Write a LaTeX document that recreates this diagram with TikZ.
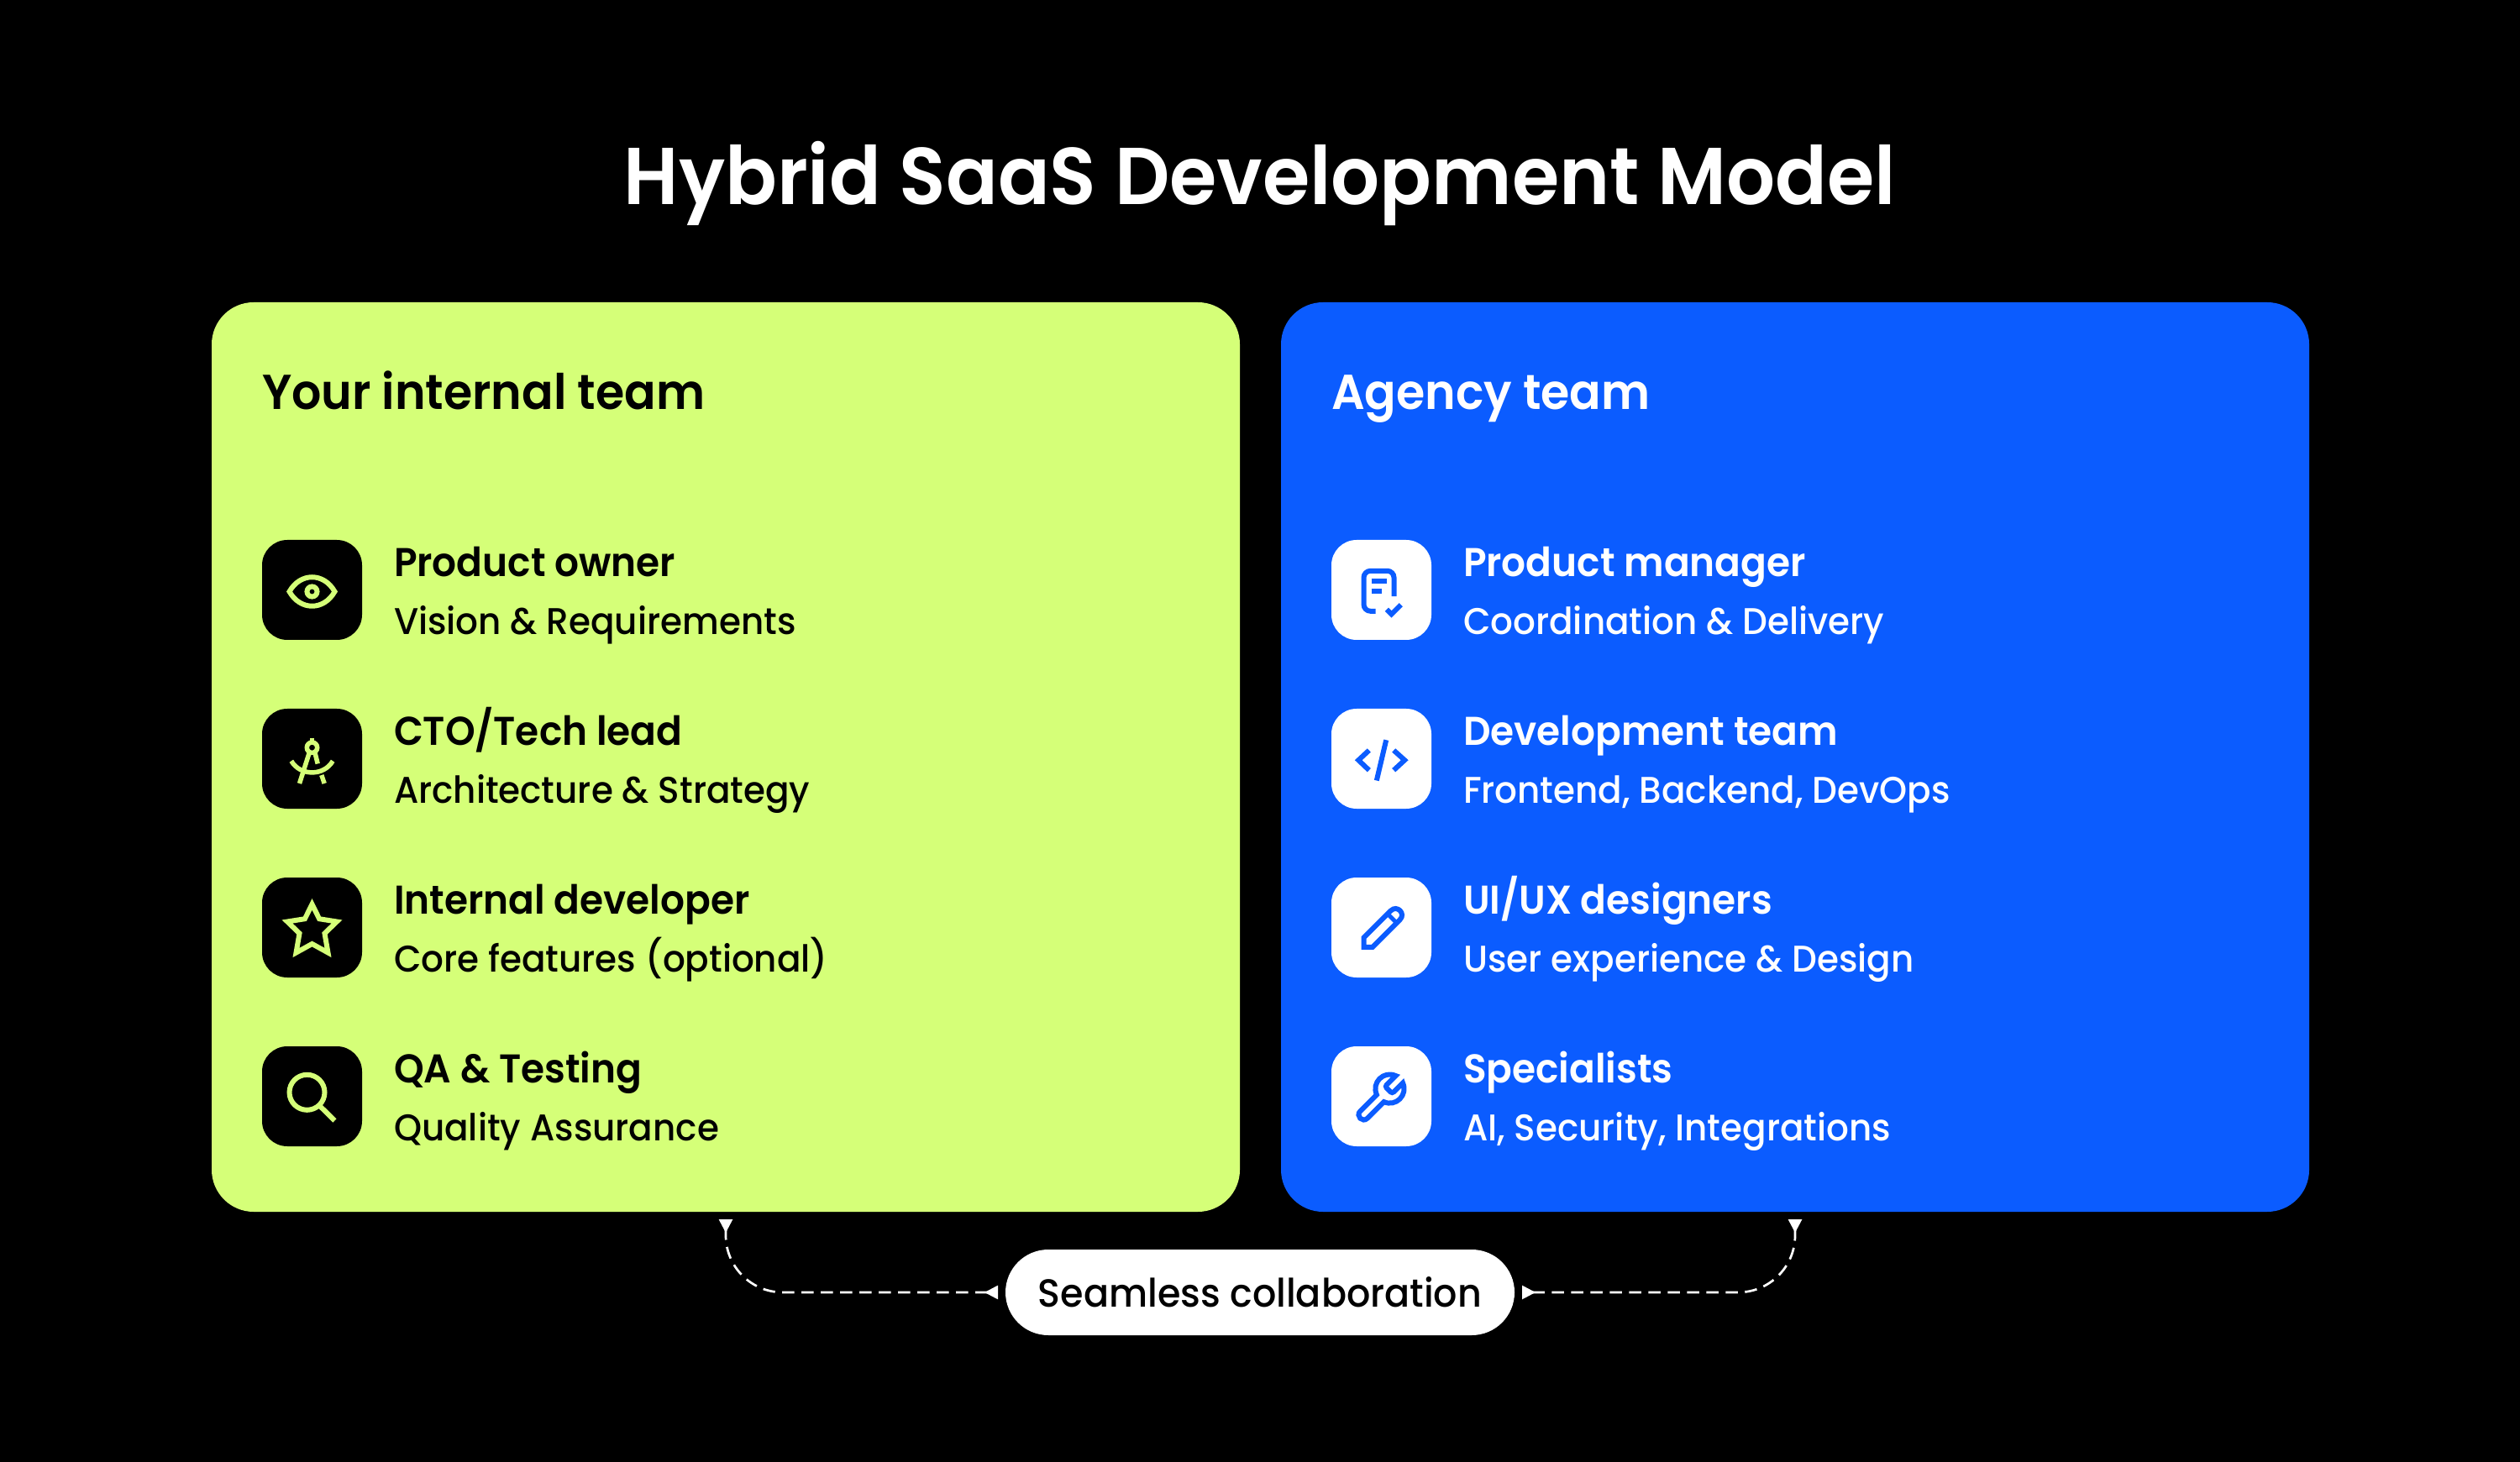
\documentclass[tikz,border=0pt]{standalone}
\usepackage{fontspec}
\setmainfont{Poppins Medium}[BoldFont={Poppins SemiBold}, FakeStretch=0.95]
\usetikzlibrary{positioning, arrows.meta}
\definecolor{lime}{HTML}{D5FF78}
\definecolor{agency}{HTML}{0B5CFF}

\begin{document}
\begin{tikzpicture} [ font=\rmfamily
                    , panel/.style={minimum width=12.24cm, minimum height=10.83cm, rounded corners=0.5cm, inner sep=0pt, outer sep=0pt}
                    , tile/.style={minimum size=1.19cm, rounded corners=0.3cm, inner sep=0pt, outer sep=0pt}
                    , heading/.style={font=\fontsize{16.6pt}{20pt}\bfseries, inner sep=0pt, outer sep=0pt, anchor=base west}
                    , rolename/.style={font=\fontsize{13.6pt}{16pt}\bfseries, inner sep=0pt, outer sep=0pt, anchor=base west, yshift=0.16cm}
                    , rolesub/.style={font=\fontsize{12.6pt}{15pt}\selectfont, inner sep=0pt, outer sep=0pt, anchor=base west, yshift=-0.53cm}
                    , icon/.style={line width=0.06cm, x=0.01cm, y=-0.01cm}
                    , link/.style={ white, line width=0.027cm, dash pattern=on 0.145cm off 0.085cm
                                  , rounded corners=0.68cm, shorten <=0.09cm, shorten >=0.09cm
                                  , {Triangle[reversed, length=0.16cm, width=0.16cm]}-{Triangle[reversed, length=0.16cm, width=0.16cm]}
                                  }
                    ]

  \useasboundingbox (0,0) rectangle (30,17.4);
  \fill [black] (-0.1,-0.1) rectangle (30.1,17.5);

  \node [ font=\fontsize{27.3pt}{32pt}\bfseries
        , white
        , inner sep=0pt
        , anchor=base
        ]
        (title) at (15,14.96) {Hybrid SaaS Development Model};

  % --- Internal Team Stack ---------------------------------------------------
  \node [ panel
        , fill=lime
        ]
        (internal) at (8.64,8.385) {};

  \node [ heading
        , below right=1.28cm and 0.6cm of internal.north west
        , anchor=base west
        ]
        (internalhead) {Your internal team};

  \node [ tile
        , fill=black
        , below right=2.83cm and 0.6cm of internal.north west
        ]
        (eyetile) {};

  \node [ tile
        , fill=black
        , below=0.82cm of eyetile
        ]
        (ctotile) {};

  \node [ tile
        , fill=black
        , below=0.82cm of ctotile
        ]
        (devtile) {};

  \node [ tile
        , fill=black
        , below=0.82cm of devtile
        ]
        (qatile) {};

  \node [right=0.38cm of eyetile, rolename] (eyename) {Product owner};
  \node [right=0.38cm of eyetile, rolesub]  (eyesub)  {Vision \& Requirements};
  \node [right=0.38cm of ctotile, rolename] (ctoname) {CTO/Tech lead};
  \node [right=0.38cm of ctotile, rolesub]  (ctosub)  {Architecture \& Strategy};
  \node [right=0.38cm of devtile, rolename] (devname) {Internal developer};
  \node [right=0.38cm of devtile, rolesub]  (devsub)  {Core features (optional)};
  \node [right=0.38cm of qatile,  rolename] (qaname)  {QA \& Testing};
  \node [right=0.38cm of qatile,  rolesub]  (qasub)   {Quality Assurance};

  \begin{scope} [shift={(eyetile.center)}, icon, lime]
    \draw (-27,2) .. controls (-14,-21) and (14,-21) .. (27,2)
                  .. controls (14,25) and (-14,25) .. (-27,2) -- cycle;
    \draw (0,2) circle [radius=0.06cm];
  \end{scope}

  \begin{scope} [shift={(ctotile.center)}, icon, lime, line width=0.055cm]
    \draw (0,-13.3) circle [radius=0.062cm];
    \draw (0,-25) -- (0,-19);
    \draw (-3,-8) -- (-15,29.5);
    \draw (3.3,-8) -- (6.7,6);
    \draw (11.3,19.5) -- (14.7,29.5);
    \draw (-24.7,2.7) .. controls (-14,21) and (14,21) .. (24.7,2.7);
  \end{scope}

  \begin{scope} [shift={(devtile.center)}, icon, lime]
    \draw (0,-27.7) -- (8.6,-10.3) -- (29.5,-7) -- (15,7) -- (19,30)
          -- (0,19.5) -- (-19,30) -- (-15,7) -- (-29.5,-7) -- (-8.6,-10.3) -- cycle;
  \end{scope}

  \begin{scope} [shift={(qatile.center)}, icon, lime]
    \draw (-6,-4.7) circle [radius=0.21cm];
    \draw (9.7,12) -- (27,29);
  \end{scope}
  % ---------------------------------------------------------------------------

  % --- Agency Team Stack -----------------------------------------------------
  \node [ panel
        , fill=agency
        , right=0.49cm of internal
        ]
        (agency) {};

  \node [ heading
        , below right=1.28cm and 0.6cm of agency.north west
        , anchor=base west
        , white
        ]
        (agencyhead) {Agency team};

  \node [ tile
        , fill=white
        , below right=2.83cm and 0.6cm of agency.north west
        ]
        (pmtile) {};

  \node [ tile
        , fill=white
        , below=0.82cm of pmtile
        ]
        (codetile) {};

  \node [ tile
        , fill=white
        , below=0.82cm of codetile
        ]
        (uitile) {};

  \node [ tile
        , fill=white
        , below=0.82cm of uitile
        ]
        (spectile) {};

  \node [right=0.38cm of pmtile,   rolename, white] (pmname)   {Product manager};
  \node [right=0.38cm of pmtile,   rolesub,  white] (pmsub)    {Coordination \& Delivery};
  \node [right=0.38cm of codetile, rolename, white] (codename) {Development team};
  \node [right=0.38cm of codetile, rolesub,  white] (codesub)  {Frontend, Backend, DevOps};
  \node [right=0.38cm of uitile,   rolename, white] (uiname)   {UI/UX designers};
  \node [right=0.38cm of uitile,   rolesub,  white] (uisub)    {User experience \& Design};
  \node [right=0.38cm of spectile, rolename, white] (specname) {Specialists};
  \node [right=0.38cm of spectile, rolesub,  white] (specsub)  {AI, Security, Integrations};

  \begin{scope} [shift={(pmtile.center)}, icon, agency]
    \draw [rounded corners=0.08cm] (-7,25.3) -- (-21,25.3) -- (-21,-22.7) -- (15,-22.7) -- (15,7.7);
    \draw (-12,-10.5) -- (6,-10.5);
    \draw (-12,1.5) -- (0,1.5);
    \draw (6.3,23.3) -- (12,29) -- (23.3,17.7);
  \end{scope}

  \begin{scope} [shift={(codetile.center)}, icon, agency]
    \draw (-14.7,-10) -- (-27.3,1.7) -- (-14.7,13.7);
    \draw (14.7,-10) -- (27.7,1.7) -- (14.7,13.7);
    \draw (5.7,-22.3) -- (-5.7,26);
  \end{scope}

  \begin{scope} [shift={(uitile.center)}, icon, agency]
    \draw (-21,23.3) -- (-21,12.2) -- (11.3,-20.1)
          .. controls (18.6,-27.4) and (29.4,-16.6) .. (22.1,-9.3)
          -- (-10.5,23.3) -- cycle;
    \draw [line width=0.05cm] (7.45,-16.25) -- (18.25,-5.45);
  \end{scope}

  \begin{scope} [shift={(spectile.center)}, icon, agency, x=0.0284cm, y=-0.0284cm, shift={(-12.5,-11.15)}]
    \draw (14.7,6.3) .. controls (14.3,6.7) and (14.3,7.3) .. (14.7,7.7)
          -- (16.3,9.3) .. controls (16.7,9.7) and (17.3,9.7) .. (17.7,9.3)
          -- (21.47,5.53) .. controls (23.75,10.57) and (18.57,15.75) .. (13.53,13.47)
          -- (6.62,20.38) .. controls (4.62,22.38) and (1.62,19.38) .. (3.62,17.38)
          -- (10.53,10.47) .. controls (8.255,5.43) and (13.43,0.255) .. (18.47,2.53)
          -- cycle;
  \end{scope}
  % ---------------------------------------------------------------------------

  % --- Collaboration Pill ----------------------------------------------------
  \node [ fill=white
        , minimum width=6.06cm
        , minimum height=1.02cm
        , rounded corners=0.51cm
        , inner sep=0pt
        , outer sep=0pt
        , font=\fontsize{13.3pt}{16pt}\selectfont
        ]
        (pill) at (15,2.01) {Seamless collaboration};

  \draw [link] (pill.west) -| (internal.south);
  \draw [link] (pill.east) -| (agency.south);
  % ---------------------------------------------------------------------------
\end{tikzpicture}
\end{document}
